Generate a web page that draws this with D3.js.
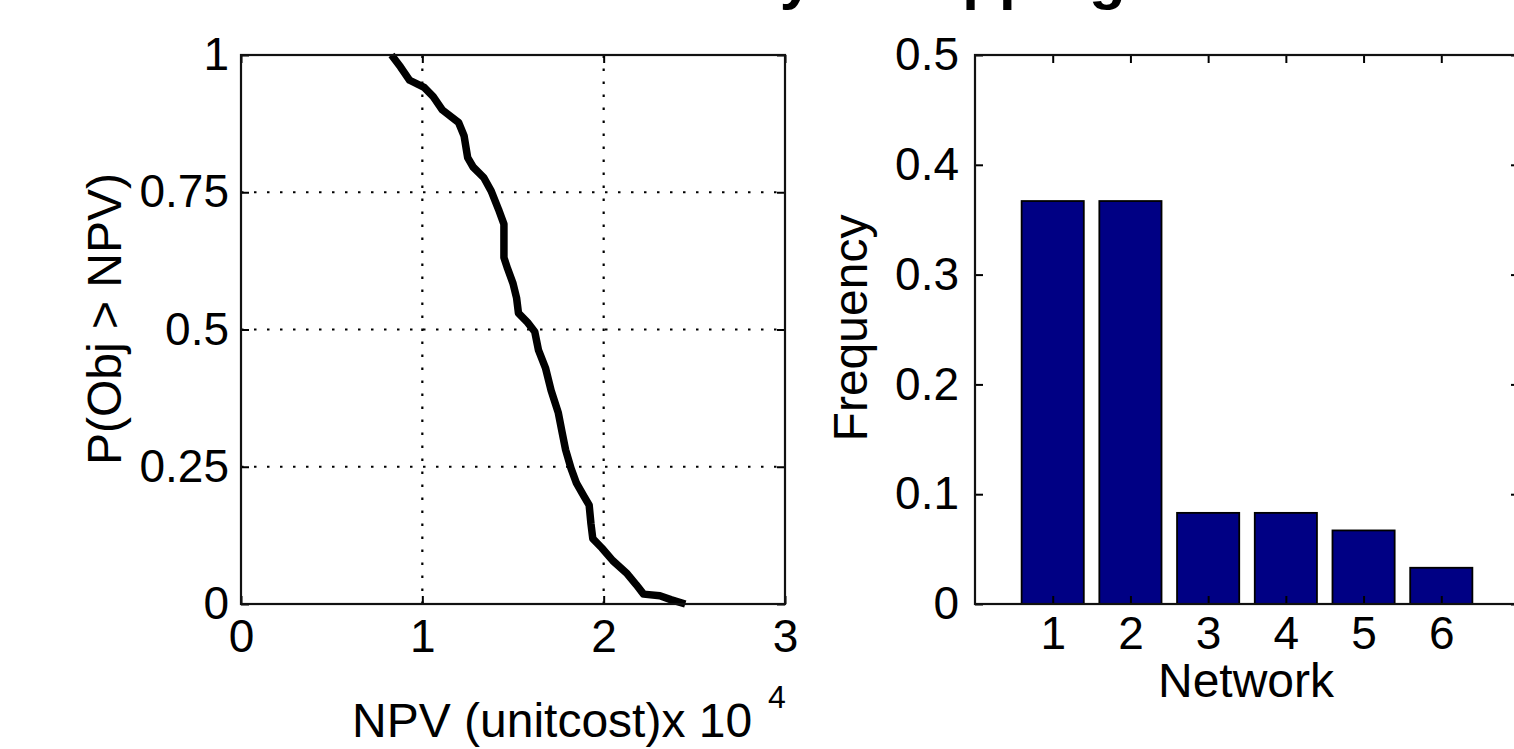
<!DOCTYPE html>
<html>
<head>
<meta charset="utf-8">
<script src="https://cdn.jsdelivr.net/npm/d3@7"></script>
<style>
  body { margin: 0; background: #fff; }
  svg { display: block; }
  text { font-family: "Liberation Sans", Arial, Helvetica, sans-serif; fill: #000; }
</style>
</head>
<body>
<svg id="chart" width="1514" height="749"></svg>
<script>
// Left panel: exceedance curve P(Obj > NPV), NPV in units of 10^4
const npv = [0.83, 0.88, 0.93, 1.01, 1.06, 1.11, 1.20, 1.23, 1.25, 1.28, 1.34, 1.38,
  1.42, 1.45, 1.45, 1.47, 1.50, 1.52, 1.53, 1.58, 1.62, 1.64, 1.68, 1.71, 1.75,
  1.77, 1.79, 1.82, 1.85, 1.89, 1.92, 1.93, 1.94, 1.99, 2.05, 2.13, 2.18, 2.22,
  2.31, 2.37, 2.45];
const prob = [1.0, 0.978, 0.954, 0.941, 0.924, 0.900, 0.877, 0.853, 0.813, 0.796, 0.776, 0.752,
  0.719, 0.692, 0.631, 0.611, 0.584, 0.557, 0.530, 0.513, 0.496, 0.463, 0.429, 0.389, 0.348,
  0.314, 0.281, 0.247, 0.220, 0.197, 0.180, 0.146, 0.119, 0.102, 0.079, 0.055, 0.035, 0.018,
  0.015, 0.008, 0.0];
const npvTicks = [0, 1, 2, 3];
const probTicks = [0, 0.25, 0.5, 0.75, 1];

// Right panel: how often each network was chosen
const networks = [1, 2, 3, 4, 5, 6];
const frequency = [0.367, 0.367, 0.083, 0.083, 0.067, 0.033];
const freqTicks = [0, 0.1, 0.2, 0.3, 0.4, 0.5];

const FONT = 46;
const LABEL_FONT = 48;
const TICK = 8;
const svg = d3.select("#chart");

// title sits mostly above the page edge; only descenders show
const title = svg.append("g")
  .style("font-family", "'DejaVu Sans', sans-serif")
  .style("font-weight", "bold")
  .style("font-size", "60px");
title.append("text").attr("x", 813).attr("y", -2)
  .attr("text-anchor", "end").text("Uncertainty");
title.append("text").attr("x", 879).attr("y", -2).text("Mapping");

// ---- shared helpers ----
function styleAxis(g) {
  g.select(".domain").remove();
  g.selectAll(".tick line").attr("stroke", "#000").attr("stroke-width", 2);
  g.selectAll("text").style("font-size", FONT + "px").attr("fill", "#000");
}

function box(x, y) {
  const [x0, x1] = x.range();
  const [y0, y1] = y.range();
  svg.append("rect")
    .attr("x", Math.min(x0, x1)).attr("y", Math.min(y0, y1))
    .attr("width", Math.abs(x1 - x0)).attr("height", Math.abs(y1 - y0))
    .attr("fill", "none").attr("stroke", "#111").attr("stroke-width", 2.2);
}

function frameAxes(x, y, xTicks, yTicks, yFormat, yPad, xPad) {
  const [b, t] = y.range();
  const [l, r] = x.range();
  svg.append("g").attr("transform", `translate(0,${b})`)
    .call(d3.axisBottom(x).tickValues(xTicks).tickFormat(d3.format("d"))
      .tickSize(-TICK).tickPadding(xPad))
    .call(styleAxis);
  svg.append("g").attr("transform", `translate(0,${t})`)
    .call(d3.axisTop(x).tickValues(xTicks).tickFormat("").tickSize(-TICK))
    .call(styleAxis);
  svg.append("g").attr("transform", `translate(${l},0)`)
    .call(d3.axisLeft(y).tickValues(yTicks).tickFormat(yFormat)
      .tickSize(-TICK).tickPadding(yPad))
    .call(styleAxis);
  svg.append("g").attr("transform", `translate(${r},0)`)
    .call(d3.axisRight(y).tickValues(yTicks).tickFormat("").tickSize(-TICK))
    .call(styleAxis);
}

// ---- left panel ----
const xL = d3.scaleLinear().domain([0, 3]).range([241, 785]);
const yL = d3.scaleLinear().domain([0, 1]).range([604, 55]);

const grid = svg.append("g")
  .attr("stroke", "#000").attr("stroke-width", 2.2)
  .attr("stroke-dasharray", "2.5,10.5");
grid.selectAll(".gx").data(npvTicks.slice(1, -1)).enter().append("line")
  .attr("x1", (d) => xL(d)).attr("x2", (d) => xL(d))
  .attr("y1", yL(0)).attr("y2", yL(1));
grid.selectAll(".gy").data(probTicks.slice(1, -1)).enter().append("line")
  .attr("x1", xL(0)).attr("x2", xL(3))
  .attr("y1", (d) => yL(d)).attr("y2", (d) => yL(d));

svg.append("path")
  .datum(npv.map((v, i) => [v, prob[i]]))
  .attr("fill", "none").attr("stroke", "#000").attr("stroke-width", 7.5)
  .attr("stroke-linejoin", "round")
  .attr("d", d3.line().x((d) => xL(d[0])).y((d) => yL(d[1])));

frameAxes(xL, yL, npvTicks, probTicks, (d) => String(d), 12, 15);
box(xL, yL);

svg.append("text")
  .attr("transform", "translate(121,319) rotate(-90)")
  .attr("text-anchor", "middle")
  .style("font-size", LABEL_FONT + "px")
  .text("P(Obj > NPV)");

svg.append("text")
  .attr("x", 352).attr("y", 737)
  .style("font-size", LABEL_FONT + "px")
  .text("NPV (unitcost)")
  .append("tspan")
  .text("x 10");
svg.append("text")
  .attr("x", 768).attr("y", 708)
  .style("font-size", "32px")
  .text("4");

// ---- right panel ----
const xR = d3.scaleLinear().domain([0, 7]).range([975, 1519]);
const yR = d3.scaleLinear().domain([0, 0.5]).range([604, 55]);

svg.append("g").selectAll("rect")
  .data(networks).enter().append("rect")
  .attr("x", (d) => xR(d - 0.4))
  .attr("width", (d) => xR(d + 0.4) - xR(d - 0.4))
  .attr("y", (d, i) => yR(frequency[i]))
  .attr("height", (d, i) => yR(0) - yR(frequency[i]))
  .attr("fill", "#000084").attr("stroke", "#000").attr("stroke-width", 1.8);

frameAxes(xR, yR, networks, freqTicks, d3.format(".1~f"), 16, 12);
box(xR, yR);

svg.append("text")
  .attr("transform", "translate(867,328) rotate(-90)")
  .attr("text-anchor", "middle")
  .style("font-size", LABEL_FONT + "px")
  .text("Frequency");

svg.append("text")
  .attr("x", 1246).attr("y", 697)
  .attr("text-anchor", "middle")
  .style("font-size", LABEL_FONT + "px")
  .text("Network");
</script>
</body>
</html>
